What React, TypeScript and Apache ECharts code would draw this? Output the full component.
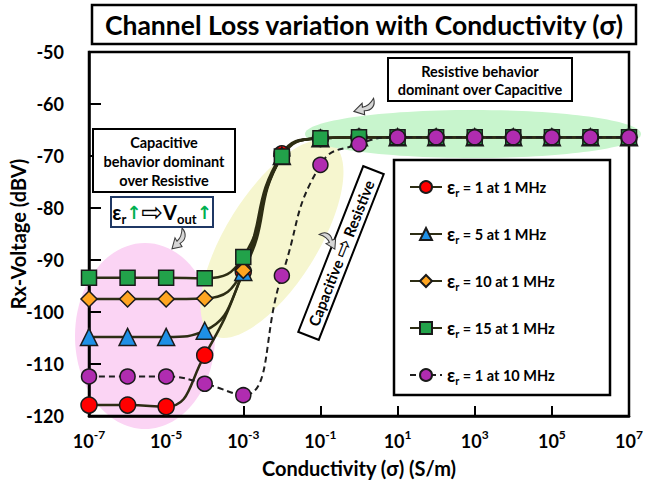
import React, { useEffect, useRef } from "react";
import * as echarts from "echarts";

const exponents = ["-7", "-6", "-5", "-4", "-3", "-2", "-1", "0", "1", "2", "3", "4", "5", "6", "7"];
const yTicks = [-120, -110, -100, -90, -80, -70, -60, -50];

const seriesNames = [
  "εr = 1 at 1 MHz",
  "εr = 5 at 1 MHz",
  "εr = 10 at 1 MHz",
  "εr = 15 at 1 MHz",
  "εr = 1 at 10 MHz",
];
const er1at1MHz = [-117.9, -117.9, -118.2, -108.3, -92.2, -69.6, -66.6, -66.4, -66.4, -66.4, -66.4, -66.4, -66.4, -66.4, -66.4];
const er5at1MHz = [-104.8, -104.8, -104.8, -103.6, -92.3, -70.0, -66.6, -66.4, -66.4, -66.4, -66.4, -66.4, -66.4, -66.4, -66.4];
const er10at1MHz = [-97.5, -97.5, -97.5, -97.4, -92.0, -70.0, -66.6, -66.4, -66.4, -66.4, -66.4, -66.4, -66.4, -66.4, -66.4];
const er15at1MHz = [-93.4, -93.4, -93.4, -93.5, -89.4, -70.1, -66.6, -66.4, -66.4, -66.4, -66.4, -66.4, -66.4, -66.4, -66.4];
const er1at10MHz = [-112.4, -112.4, -112.4, -113.8, -116.0, -93.0, -71.7, -67.7, -66.4, -66.4, -66.4, -66.4, -66.4, -66.4, -66.4];

const FONT = "Lato, 'Open Sans', 'DejaVu Sans', sans-serif";
const LINE = "#2d2d14";

const ARROW_D = "M12 0 C17 5 16 11 10 14 L12 17 L2 19 L5 9 L7 12 C11 9 12 5 12 0 Z";

function mkSeries(name: string, data: number[], symbol: string, size: number, color: string, dashed: boolean) {
  return {
    type: "line",
    name,
    data,
    smooth: 0.5,
    symbol,
    symbolSize: size,
    showAllSymbol: true,
    lineStyle: { color: dashed ? "#1e1e1e" : LINE, width: dashed ? 2 : 2.5, type: dashed ? [6, 4] : "solid" },
    itemStyle: { color, borderColor: "#1a1a1a", borderWidth: 1.5 },
    z: 2,
  };
}

export default function App() {
  const ref = useRef<HTMLDivElement>(null);
  useEffect(() => {
    try {
      echarts.graphic.registerShape("curlyArrow", echarts.graphic.extendPath(ARROW_D, {}));
    } catch (e) {}
    const chart = echarts.init(ref.current!, null, { renderer: "svg" });
    const arrowStyle = { fill: "#d6d6d6", stroke: "#3a3a3a", lineWidth: 1 };
    const option = {
      animation: false,
      backgroundColor: "#ffffff",
      grid: {
        left: 89,
        right: 22,
        top: 52,
        bottom: 71,
        containLabel: false,
        outerBoundsMode: "none",
        show: true,
        borderColor: "#000",
        borderWidth: 2.5,
        backgroundColor: "transparent",
        z: 1.5,
      },
      xAxis: {
        type: "category",
        data: exponents,
        boundaryGap: false,
        z: 1.5,
        name: "Conductivity (σ) (S/m)",
        nameLocation: "middle",
        nameGap: 42,
        nameMoveOverlap: false,
        nameTextStyle: { fontFamily: FONT, fontWeight: "bold", fontSize: 20, color: "#000" },
        axisLine: { lineStyle: { color: "#000", width: 2.5 } },
        axisTick: { show: true, inside: true, length: 10, interval: 1, lineStyle: { color: "#000", width: 2 } },
        axisLabel: {
          interval: 1,
          margin: 12,
          formatter: (v: string) => `{b|10}{s|${v}}`,
          rich: {
            b: { fontFamily: FONT, fontWeight: "bold", fontSize: 18, color: "#000", lineHeight: 22, verticalAlign: "bottom" },
            s: { fontFamily: FONT, fontWeight: "bold", fontSize: 12, color: "#000", lineHeight: 22, verticalAlign: "top" },
          },
        },
        splitLine: { show: false },
      },
      yAxis: {
        type: "value",
        min: yTicks[0],
        max: yTicks[yTicks.length - 1],
        interval: 10,
        z: 1.5,
        name: "Rx-Voltage (dBV)",
        nameLocation: "middle",
        nameGap: 61,
        nameMoveOverlap: false,
        nameTextStyle: { fontFamily: FONT, fontWeight: "bold", fontSize: 20, color: "#000" },
        axisLine: { show: true, lineStyle: { color: "#000", width: 2.5 } },
        axisTick: { show: true, inside: true, length: 12, lineStyle: { color: "#000", width: 2 } },
        axisLabel: { margin: 25, fontFamily: FONT, fontWeight: "bold", fontSize: 18, color: "#000" },
        splitLine: { show: false },
      },
      legend: {
        orient: "vertical",
        left: 404,
        top: 173,
        itemGap: 27,
        itemWidth: 32,
        itemHeight: 15,
        z: 10,
        data: seriesNames,
        formatter: (name: string) => `{e|ε}{s|r}{t|${name.slice(2)}}`,
        textStyle: {
          rich: {
            e: { fontFamily: FONT, fontWeight: "bold", fontSize: 18, color: "#000", lineHeight: 22, verticalAlign: "middle" },
            s: { fontFamily: FONT, fontWeight: "bold", fontSize: 11, color: "#000", lineHeight: 22, verticalAlign: "bottom" },
            t: { fontFamily: FONT, fontWeight: "bold", fontSize: 14.5, color: "#000", lineHeight: 22, verticalAlign: "middle" },
          },
        },
      },
      graphic: [
        // highlight ellipses
        { type: "ellipse", z: 1, shape: { cx: 145, cy: 336, rx: 70, ry: 93 }, style: { fill: "#fbd4f4" } },
        {
          type: "ellipse", z: 1, x: 272, y: 239, rotation: (58 * Math.PI) / 180,
          shape: { cx: 0, cy: 0, rx: 113, ry: 46 }, style: { fill: "#f6f6cf" },
        },
        { type: "ellipse", z: 1, shape: { cx: 473, cy: 134, rx: 168, ry: 24 }, style: { fill: "#c8f5cd" } },
        // title
        { type: "rect", z: 5, shape: { x: 92, y: 5, width: 544, height: 39 }, style: { fill: "#fff", stroke: "#000", lineWidth: 2.5 } },
        {
          type: "text", z: 6, x: 364, y: 25,
          style: { text: "Channel Loss variation with Conductivity (σ)", fontFamily: FONT, fontWeight: "bold", fontSize: 26.5, fill: "#000", align: "center", verticalAlign: "middle" },
        },
        // legend box
        { type: "rect", z: 3, shape: { x: 394, y: 160, width: 216, height: 235 }, style: { fill: "#fff", stroke: "#000", lineWidth: 2.5 } },
        // capacitive annotation
        { type: "rect", z: 5, shape: { x: 93, y: 129, width: 142, height: 63 }, style: { fill: "#fff", stroke: "#000", lineWidth: 2 } },
        {
          type: "text", z: 6, x: 164, y: 161,
          style: { text: "Capacitive\nbehavior dominant\nover Resistive", fontFamily: FONT, fontWeight: "bold", fontSize: 14.5, lineHeight: 19, fill: "#000", align: "center", verticalAlign: "middle" },
        },
        { type: "rect", z: 5, shape: { x: 111, y: 197, width: 102, height: 30 }, style: { fill: "#fff", stroke: "#1f3864", lineWidth: 2 } },
        {
          type: "text", z: 6, x: 162, y: 212,
          style: {
            text: "{e|ε}{s|r}{g|↑}{a|⇨}{v|V}{s|out}{g|↑}",
            align: "center",
            verticalAlign: "middle",
            rich: {
              e: { fontFamily: FONT, fontWeight: "bold", fontSize: 20, fill: "#000", lineHeight: 26, verticalAlign: "middle" },
              v: { fontFamily: FONT, fontWeight: "bold", fontSize: 20, fill: "#000", lineHeight: 26, verticalAlign: "middle" },
              s: { fontFamily: FONT, fontWeight: "bold", fontSize: 13, fill: "#000", lineHeight: 26, verticalAlign: "bottom" },
              g: { fontFamily: "'DejaVu Sans', sans-serif", fontWeight: "bold", fontSize: 18, fill: "#00b050", lineHeight: 26, verticalAlign: "middle" },
              a: { fontFamily: "'DejaVu Sans', sans-serif", fontSize: 26, fill: "#000", lineHeight: 26, verticalAlign: "middle" },
            },
          },
        },
        // resistive annotation
        { type: "rect", z: 5, shape: { x: 388, y: 58, width: 184, height: 43 }, style: { fill: "#fff", stroke: "#000", lineWidth: 2 } },
        {
          type: "text", z: 6, x: 480, y: 80,
          style: { text: "Resistive behavior\ndominant over Capacitive", fontFamily: FONT, fontWeight: "bold", fontSize: 14.5, lineHeight: 18, fill: "#000", align: "center", verticalAlign: "middle" },
        },
        // rotated transition box
        {
          type: "group", z: 5, x: 341, y: 253, rotation: (68.6 * Math.PI) / 180,
          children: [
            { type: "rect", z: 5, shape: { x: -89, y: -11, width: 178, height: 22 }, style: { fill: "#fff", stroke: "#000", lineWidth: 2 } },
            {
              type: "text", z: 6, x: 0, y: 0,
              style: {
                text: "{t|Capacitive }{a|⇨}{t| Resistive}",
                align: "center",
                verticalAlign: "middle",
                rich: {
                  t: { fontFamily: FONT, fontWeight: "bold", fontSize: 15, fill: "#000", lineHeight: 20, verticalAlign: "middle" },
                  a: { fontFamily: "'DejaVu Sans', sans-serif", fontSize: 22, fill: "#000", lineHeight: 20, verticalAlign: "middle" },
                },
              },
            },
          ],
        },
        // curly arrows
        { type: "curlyArrow", z: 6, x: 170, y: 228, scaleX: 1, scaleY: 1.1, style: arrowStyle },
        { type: "curlyArrow", z: 6, x: 316, y: 246, scaleX: 1, scaleY: 1, rotation: 1.3, style: arrowStyle },
        { type: "curlyArrow", z: 6, x: 362, y: 92, scaleX: 1.1, scaleY: 1.1, rotation: -0.5, style: arrowStyle },
      ],
      series: [
        mkSeries(seriesNames[0], er1at1MHz, "circle", 16, "#ff0000", false),
        mkSeries(seriesNames[1], er5at1MHz, "triangle", 17, "#1e90e6", false),
        mkSeries(seriesNames[2], er10at1MHz, "diamond", 16, "#ffa520", false),
        mkSeries(seriesNames[3], er15at1MHz, "rect", 15, "#22a24a", false),
        mkSeries(seriesNames[4], er1at10MHz, "circle", 15, "#b02cb0", true),
      ],
    };
    chart.setOption(option as any);
    return () => chart.dispose();
  }, []);
  return <div ref={ref} style={{ position: "fixed", left: 0, top: 0, width: 651, height: 487 }} />;
}
